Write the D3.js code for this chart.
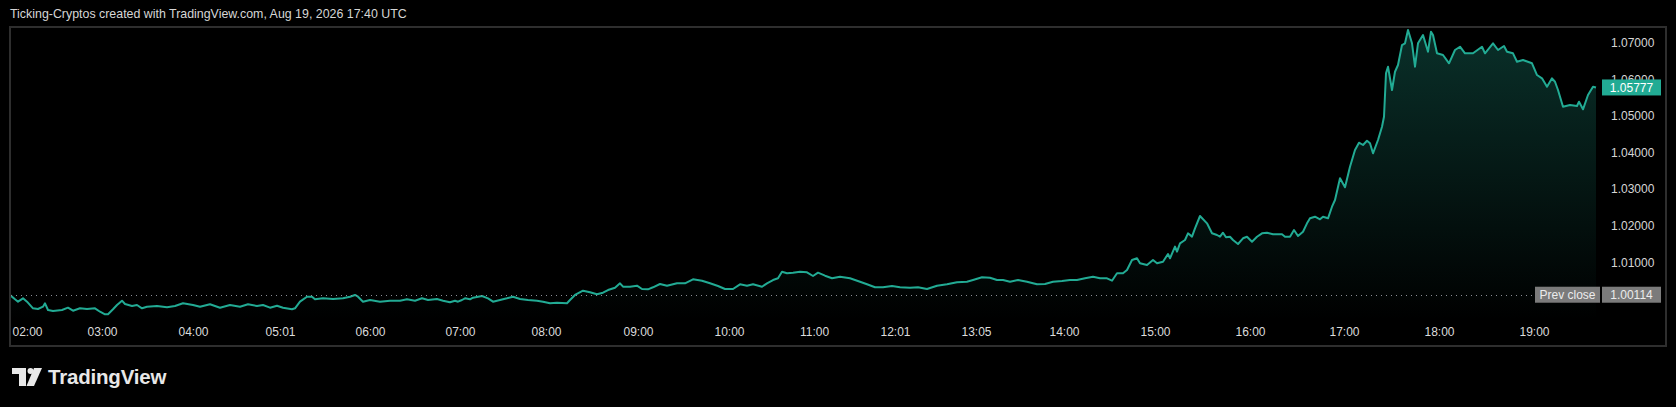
<!DOCTYPE html>
<html>
<head>
<meta charset="utf-8">
<script src="https://cdn.jsdelivr.net/npm/d3@7"></script>
<style>
  html, body { margin: 0; padding: 0; background: #000; }
  svg { display: block; }
  text { font-family: "Liberation Sans", Arial, sans-serif; }
</style>
</head>
<body>
<svg id="chart" width="1676" height="407"></svg>
<script>
// ---- data (bar index within session, close price) ----
const bars = [0,5,8,13,17,23,28,33,35,38,43,52,58,63,70,77,85,90,95,98,103,107,112,115,122,127,132,137,147,157,165,173,183,190,200,210,220,230,238,247,253,260,267,273,282,285,290,297,302,305,313,323,333,340,345,348,353,360,370,380,390,397,405,412,418,427,433,440,445,448,452,455,460,463,472,478,483,490,497,503,510,518,527,533,540,547,557,560,565,573,580,587,593,598,605,610,613,620,627,632,638,643,650,657,667,675,683,692,700,708,715,723,730,737,743,752,757,763,768,772,777,783,790,797,803,808,815,822,830,840,850,857,865,873,882,890,900,908,917,927,937,947,957,963,972,980,987,993,1000,1008,1017,1027,1035,1043,1052,1060,1067,1075,1083,1090,1097,1102,1107,1113,1117,1122,1127,1130,1137,1143,1147,1153,1158,1160,1165,1167,1170,1175,1178,1182,1185,1190,1197,1202,1207,1210,1213,1216,1220,1223,1228,1233,1237,1242,1247,1252,1257,1263,1272,1275,1280,1284,1288,1293,1297,1300,1305,1310,1313,1318,1322,1325,1330,1335,1340,1345,1349,1353,1357,1360,1363,1368,1372,1374,1376,1378,1382,1385,1388,1392,1395,1398,1402,1405,1408,1413,1418,1421,1423,1427,1433,1439,1445,1450,1455,1463,1472,1475,1483,1488,1494,1497,1503,1507,1513,1522,1527,1532,1537,1542,1545,1548,1553,1560,1567,1569,1573,1578,1583,1586];
const closes = [1.00107,0.99989,0.99924,1.00016,0.99924,0.99743,0.99724,0.99787,0.99880,0.99697,0.99670,0.99697,0.99760,0.99678,0.99743,0.99724,0.99743,0.99650,0.99579,0.99579,0.99716,0.99833,0.99951,0.99861,0.99806,0.99833,0.99743,0.99787,0.99806,0.99771,0.99806,0.99880,0.99833,0.99787,0.99853,0.99760,0.99833,0.99787,0.99853,0.99806,0.99833,0.99760,0.99814,0.99760,0.99716,0.99743,0.99924,1.00060,1.00060,0.99989,1.00016,0.99997,1.00016,1.00060,1.00107,1.00060,0.99924,0.99970,0.99924,0.99951,0.99951,0.99989,0.99951,1.00016,0.99970,0.99997,0.99951,0.99907,0.99951,0.99924,0.99970,1.00016,0.99989,1.00033,1.00079,1.00016,0.99924,0.99970,1.00016,1.00060,0.99997,0.99970,0.99951,0.99924,0.99880,0.99896,0.99880,0.99970,1.00107,1.00224,1.00180,1.00126,1.00169,1.00243,1.00306,1.00426,1.00333,1.00333,1.00361,1.00271,1.00262,1.00317,1.00407,1.00361,1.00426,1.00426,1.00536,1.00497,1.00426,1.00353,1.00271,1.00271,1.00399,1.00361,1.00399,1.00333,1.00426,1.00516,1.00563,1.00743,1.00700,1.00716,1.00743,1.00727,1.00626,1.00716,1.00634,1.00563,1.00607,1.00563,1.00470,1.00399,1.00317,1.00317,1.00353,1.00317,1.00306,1.00317,1.00271,1.00361,1.00399,1.00454,1.00470,1.00516,1.00590,1.00579,1.00516,1.00516,1.00470,1.00516,1.00470,1.00399,1.00407,1.00470,1.00489,1.00516,1.00516,1.00563,1.00607,1.00563,1.00563,1.00497,1.00700,1.00700,1.00790,1.01063,1.01109,1.00973,1.00926,1.01063,1.00973,1.01016,1.01227,1.01109,1.01428,1.01291,1.01519,1.01609,1.01792,1.01701,1.01929,1.02265,1.02065,1.01792,1.01746,1.01699,1.01809,1.01683,1.01699,1.01609,1.01500,1.01656,1.01699,1.01563,1.01699,1.01792,1.01809,1.01765,1.01765,1.01699,1.01699,1.01882,1.01719,1.01836,1.02065,1.02202,1.02246,1.02175,1.02246,1.02202,1.02519,1.02702,1.03295,1.03049,1.03612,1.04068,1.04268,1.04205,1.04322,1.04251,1.03978,1.04341,1.04705,1.04978,1.06163,1.06344,1.05707,1.06207,1.06390,1.06937,1.06983,1.07346,1.06983,1.06344,1.06983,1.07210,1.06754,1.07300,1.07210,1.06710,1.06663,1.06437,1.06800,1.06890,1.06710,1.06710,1.06890,1.06710,1.06983,1.06800,1.06909,1.06754,1.06710,1.06480,1.06527,1.06437,1.06117,1.06027,1.05797,1.06027,1.05934,1.05707,1.05251,1.05297,1.05270,1.05388,1.05180,1.05571,1.05797,1.05777];
const timeLabels = ["02:00","03:00","04:00","05:01","06:00","07:00","08:00","09:00","10:00","11:00","12:01","13:05","14:00","15:00","16:00","17:00","18:00","19:00"];
const timeLabelBars = [17,92,183,270,360,450,536,628,719,804,885,966,1054,1145,1240,1334,1429,1524];
const priceTicks = [1.07,1.06,1.05,1.04,1.03,1.02,1.01];
const prevClose = 1.00114;
const lastPrice = 1.05777;
const headerText = "Ticking-Cryptos created with TradingView.com, Aug 19, 2026 17:40 UTC";

// ---- layout ----
const svg = d3.select("#chart");
const W = 1676, H = 407;
const frame = {left: 10, top: 27, right: 1666, bottom: 346};
const plotBottom = 320;
const lineColor = "#22ab94";

svg.append("rect").attr("width", W).attr("height", H).attr("fill", "#000");

const x = d3.scaleLinear().domain([0, d3.max(bars)]).range([10, 1596]);
const y = d3.scaleLinear().domain([1.01, 1.07]).range([262.3, 42.7]);

const data = bars.map((b, i) => ({b, v: closes[i]}));

// header
svg.append("text").attr("x", 10).attr("y", 18).attr("fill", "#d6d6d6")
  .attr("font-size", 12.4).text(headerText);

// gradient
const defs = svg.append("defs");
const grad = defs.append("linearGradient").attr("id", "areaGrad")
  .attr("gradientUnits", "userSpaceOnUse")
  .attr("x1", 0).attr("x2", 0).attr("y1", y(d3.max(closes))).attr("y2", plotBottom);
grad.append("stop").attr("offset", 0).attr("stop-color", lineColor).attr("stop-opacity", 0.28);
grad.append("stop").attr("offset", 1).attr("stop-color", lineColor).attr("stop-opacity", 0.0);

defs.append("clipPath").attr("id", "plotClip").append("rect")
  .attr("x", frame.left + 1).attr("y", frame.top + 1)
  .attr("width", 1600 - frame.left).attr("height", plotBottom - frame.top);

const g = svg.append("g").attr("clip-path", "url(#plotClip)");

g.append("path").datum(data)
  .attr("d", d3.area().x(d => x(d.b)).y0(plotBottom).y1(d => y(d.v)))
  .attr("fill", "url(#areaGrad)");

// prev close dotted line
svg.append("line")
  .attr("x1", frame.left + 1).attr("x2", 1534)
  .attr("y1", Math.round(y(prevClose)) + 0.5).attr("y2", Math.round(y(prevClose)) + 0.5)
  .attr("stroke", "#8a8d96").attr("stroke-width", 1).attr("stroke-dasharray", "1,4");

g.append("path").datum(data)
  .attr("d", d3.line().x(d => x(d.b)).y(d => y(d.v)))
  .attr("fill", "none").attr("stroke", lineColor).attr("stroke-width", 2)
  .attr("stroke-linejoin", "round");

// frame
svg.append("rect")
  .attr("x", frame.left).attr("y", frame.top)
  .attr("width", frame.right - frame.left).attr("height", frame.bottom - frame.top)
  .attr("fill", "none").attr("stroke", "#2e2e2e").attr("stroke-width", 2);

// price axis labels
const yAxis = d3.axisRight(y).tickValues(priceTicks).tickFormat(d3.format(".5f")).tickSize(0).tickPadding(0);
const ya = svg.append("g").attr("transform", "translate(1611,0)").call(yAxis);
ya.select(".domain").remove();
ya.selectAll("text").attr("fill", "#d6d6d6").attr("font-size", 12)
  .attr("font-family", "Liberation Sans, Arial, sans-serif");

// time axis labels
const xAxis = d3.axisBottom(x).tickValues(timeLabelBars)
  .tickFormat((d, i) => timeLabels[i]).tickSize(0).tickPadding(0);
const xa = svg.append("g").attr("transform", "translate(0,327)").call(xAxis);
xa.select(".domain").remove();
xa.selectAll("text").attr("fill", "#dcdcdc").attr("font-size", 12)
  .attr("font-family", "Liberation Sans, Arial, sans-serif");

// last price label
const ly = y(lastPrice);
svg.append("rect").attr("x", 1602).attr("y", ly - 8).attr("width", 59).attr("height", 16)
  .attr("fill", lineColor);
svg.append("text").attr("x", 1631.5).attr("y", ly + 4.3).attr("text-anchor", "middle")
  .attr("fill", "#ffffff").attr("font-size", 12).text(d3.format(".5f")(lastPrice));

// prev close labels
const py = y(prevClose);
svg.append("rect").attr("x", 1535).attr("y", py - 8).attr("width", 65).attr("height", 16)
  .attr("fill", "#7b7b7b");
svg.append("text").attr("x", 1567.5).attr("y", py + 4.3).attr("text-anchor", "middle")
  .attr("fill", "#ececec").attr("font-size", 12).text("Prev close");
svg.append("rect").attr("x", 1602).attr("y", py - 8).attr("width", 59).attr("height", 16)
  .attr("fill", "#7b7b7b");
svg.append("text").attr("x", 1631.5).attr("y", py + 4.3).attr("text-anchor", "middle")
  .attr("fill", "#ececec").attr("font-size", 12).text(d3.format(".5f")(prevClose));

// TradingView logo
const logo = svg.append("g").attr("transform", "translate(12,368)").attr("fill", "#e8e8e8");
logo.append("path").attr("d", "M0 0 H14 V18 H7 V6 H0 Z");
logo.append("circle").attr("cx", 18.5).attr("cy", 3).attr("r", 3);
logo.append("path").attr("d", "M22 0 H30 L22 18 H14.5 Z");
svg.append("text").attr("x", 48).attr("y", 383.5).attr("fill", "#e8e8e8")
  .attr("font-size", 20.5).attr("font-weight", 700).attr("letter-spacing", -0.2)
  .text("TradingView");
</script>
</body>
</html>
